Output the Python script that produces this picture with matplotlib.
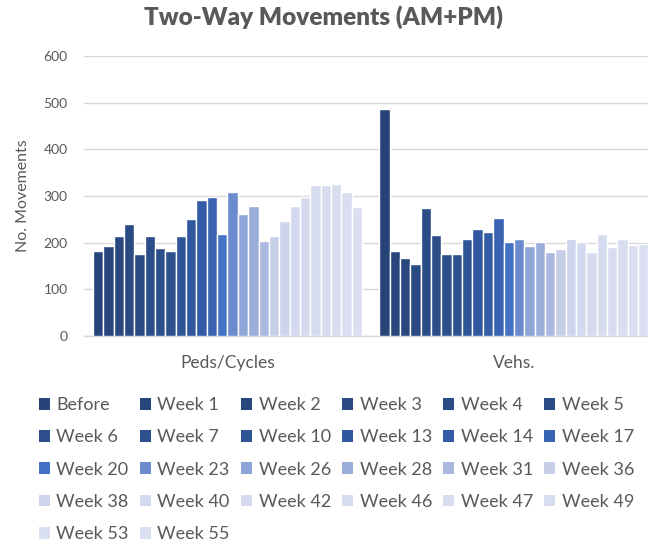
import numpy as np
import matplotlib
matplotlib.use("Agg")
from matplotlib import pyplot as plt

plt.rcParams["font.family"] = ["Lato", "DejaVu Sans"]

categories = ["Peds/Cycles", "Vehs."]
series = [
    "Before", "Week 1", "Week 2", "Week 3", "Week 4", "Week 5",
    "Week 6", "Week 7", "Week 10", "Week 13", "Week 14", "Week 17",
    "Week 20", "Week 23", "Week 26", "Week 28", "Week 31", "Week 36",
    "Week 38", "Week 40", "Week 42", "Week 46", "Week 47", "Week 49",
    "Week 53", "Week 55",
]
peds = [182, 192, 215, 240, 175, 215, 189, 182, 215, 251, 291, 299,
        218, 309, 262, 279, 204, 214, 247, 279, 299, 323, 323, 326,
        309, 276]
vehs = [487, 182, 168, 154, 274, 216, 176, 176, 208, 230, 223, 252,
        201, 208, 193, 201, 179, 186, 208, 201, 180, 219, 191, 208,
        194, 198]
colors = [
    "#264478", "#27467c", "#28487f", "#294a82", "#2a4b85", "#2b4d88",
    "#2c4f8b", "#2d518f", "#2f5597", "#31589e", "#345ca6", "#3862b2",
    "#4472c4", "#6a8ccf", "#8ea5d8", "#9aaed9", "#abb8df", "#c6cee8",
    "#cdd4eb", "#d3d9ee", "#d5daee", "#d6dcef", "#d7dcef", "#d8ddf0",
    "#d9def0", "#dadff1",
]

TEXT = "#595959"
GRID = "#d9d9d9"
NCOL = 6

fig = plt.figure(figsize=(6.48, 5.57), dpi=100)
ax = fig.add_axes([0.130, 0.397, 0.884, 0.502])

x = np.arange(len(categories))
n = len(series)
group = 0.94
w = group / n
for i, name in enumerate(series):
    offs = -group / 2 + w * (i + 0.5)
    ax.bar(x + offs, [peds[i], vehs[i]], width=w, color=colors[i],
           edgecolor="white", linewidth=1.0, label=name, zorder=3)

ax.set_xlim(-0.5, 1.5)
ax.set_ylim(0, 600)
ax.set_yticks(range(0, 601, 100))
ax.yaxis.grid(True, color=GRID, linewidth=1.0, zorder=0)
ax.set_axisbelow(True)
for s in ["top", "right", "left"]:
    ax.spines[s].set_visible(False)
ax.spines["bottom"].set_color(GRID)
ax.spines["bottom"].set_linewidth(1.0)
ax.tick_params(axis="both", length=0, colors=TEXT, labelsize=10)
ax.tick_params(axis="x", labelsize=12.5, pad=14)
ax.tick_params(axis="y", pad=12)
ax.set_xticks(x)
ax.set_xticklabels(categories)
ax.set_ylabel("No. Movements", color=TEXT, fontsize=11.5, labelpad=10)

fig.suptitle("Two-Way Movements (AM+PM)", x=0.5, y=0.99, fontsize=17.5,
             fontweight="heavy", color=TEXT)

# legend is filled column by column, reorder so it reads row by row
handles, labels = ax.get_legend_handles_labels()
order = [r * NCOL + c for c in range(NCOL) for r in range(5)
         if r * NCOL + c < n]
leg = fig.legend([handles[k] for k in order], [labels[k] for k in order],
                 ncol=NCOL, loc="upper left",
                 bbox_to_anchor=(0.06, 0.287), frameon=False,
                 fontsize=13, handlelength=0.62, handleheight=0.62,
                 handletextpad=0.35, columnspacing=0.62, labelspacing=0.9,
                 borderpad=0, borderaxespad=0)
for t in leg.get_texts():
    t.set_color(TEXT)
for h in leg.legend_handles:
    h.set_edgecolor("none")

fig.savefig("out.png", dpi=100)
